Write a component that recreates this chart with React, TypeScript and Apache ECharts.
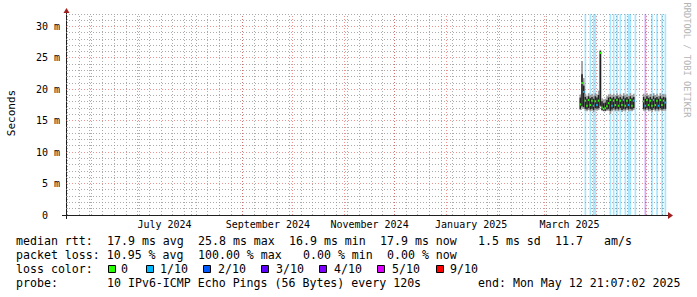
import React, { useEffect, useRef } from "react";
import * as echarts from "echarts";

// ---- time frame ----
const END_TIME = Date.UTC(2025, 4, 12, 21, 7, 2);
const DAY_MS = 86400000;
const SPAN_DAYS = 360;
const START_TIME = END_TIME - SPAN_DAYS * DAY_MS;
const Y_MAX = 32; // ms

// ---- data (ms) ----
const dayKeys: string[] = [
  "2025-03-22", "2025-03-23", "2025-03-24", "2025-03-25", "2025-03-26", "2025-03-27", "2025-03-28", "2025-03-29", "2025-03-30", "2025-03-31",
  "2025-04-01", "2025-04-02", "2025-04-03", "2025-04-04", "2025-04-05", "2025-04-06", "2025-04-07", "2025-04-08", "2025-04-09", "2025-04-10",
  "2025-04-11", "2025-04-12", "2025-04-13", "2025-04-14", "2025-04-15", "2025-04-16", "2025-04-17", "2025-04-18", "2025-04-19", "2025-04-20",
  "2025-04-21", "2025-04-22", "2025-04-23",
  "2025-04-29", "2025-04-30", "2025-05-01", "2025-05-02", "2025-05-03", "2025-05-04", "2025-05-05", "2025-05-06", "2025-05-07", "2025-05-08",
  "2025-05-09", "2025-05-10", "2025-05-11", "2025-05-12",
];
const medianMs: number[] = [
  17.6, 21.0, 19.6, 18.2, 17.4, 18.3, 17.5, 18.2, 17.4, 18.1,
  17.5, 18.2, 25.8, 17.1, 16.9, 17.0, 17.3, 17.8, 18.3, 17.4,
  18.2, 17.5, 18.3, 17.4, 18.2, 17.5, 18.3, 17.4, 18.2, 17.5,
  18.3, 17.4, 18.2,
  18.1, 17.4, 18.3, 17.5, 18.2, 17.4, 18.3, 17.5, 18.2, 17.4,
  18.3, 17.5, 18.2, 17.9,
];
const smokeOuterLow: number[] = [
  16.7, 17.0, 16.9, 16.6, 16.5, 16.7, 16.5, 16.6, 16.4, 16.7,
  16.6, 16.7, 17.2, 16.6, 16.5, 16.5, 16.6, 16.6, 16.1, 16.5,
  16.7, 16.5, 16.6, 16.5, 16.7, 16.4, 16.6, 16.5, 16.7, 16.5,
  16.6, 16.5, 16.7,
  16.6, 16.5, 16.7, 16.5, 16.6, 16.4, 16.7, 16.5, 16.6, 16.5,
  16.7, 16.5, 16.6, 16.6,
];
const smokeOuterHigh: number[] = [
  19.2, 24.5, 21.8, 19.3, 19.0, 19.4, 19.1, 19.3, 19.0, 19.4,
  19.2, 19.8, 26.3, 18.6, 18.4, 18.5, 18.9, 19.2, 19.3, 19.1,
  19.3, 19.0, 19.4, 19.1, 19.3, 19.0, 19.4, 19.1, 19.3, 19.0,
  19.4, 19.1, 19.3,
  19.3, 19.0, 19.4, 19.1, 19.3, 19.0, 19.4, 19.1, 19.3, 19.0,
  19.4, 19.1, 19.3, 19.2,
];
const smokeInnerLow: number[] = [
  16.9, 17.3, 17.2, 16.9, 16.8, 17.0, 16.8, 16.9, 16.7, 17.0,
  16.9, 17.0, 17.4, 16.7, 16.6, 16.6, 16.8, 16.9, 16.6, 16.8,
  17.0, 16.8, 16.9, 16.8, 17.0, 16.7, 16.9, 16.8, 17.0, 16.8,
  16.9, 16.8, 17.0,
  16.9, 16.8, 17.0, 16.8, 16.9, 16.7, 17.0, 16.8, 16.9, 16.8,
  17.0, 16.8, 16.9, 16.9,
];
const smokeInnerHigh: number[] = [
  18.7, 22.4, 20.6, 18.8, 18.5, 18.9, 18.6, 18.8, 18.5, 18.9,
  18.7, 19.1, 26.1, 18.1, 17.8, 17.9, 18.3, 18.7, 18.8, 18.6,
  18.8, 18.5, 18.9, 18.6, 18.8, 18.5, 18.9, 18.6, 18.8, 18.5,
  18.9, 18.6, 18.8,
  18.8, 18.5, 18.9, 18.6, 18.8, 18.5, 18.9, 18.6, 18.8, 18.5,
  18.9, 18.6, 18.8, 18.7,
];
// pings lost out of 10 (colour of the median)
const medianLoss: number[] = [
  0, 0, 1, 0, 0, 0, 0, 0, 1, 0,
  1, 0, 0, 0, 0, 0, 0, 0, 0, 1,
  0, 0, 0, 0, 0, 0, 1, 0, 0, 1,
  0, 0, 1,
  0, 1, 0, 0, 0, 0, 1, 0, 0, 1,
  0, 0, 0, 1,
];
// full-height loss bars
const lossBarDays: string[] = [
  "2025-03-25", "2025-03-28", "2025-03-30", "2025-03-31", "2025-04-09", "2025-04-11", "2025-04-13", "2025-04-15",
  "2025-04-18", "2025-04-20", "2025-04-21", "2025-04-24", "2025-04-30", "2025-05-04", "2025-05-07", "2025-05-10", "2025-05-12",
];
const lossBarLevel: number[] = [1, 1, 1, 1, 1, 1, 1, 1, 1, 1, 1, 1, 4, 1, 1, 1, 1];

// ---- axis labels ----
const monthLabelDays: string[] = ["2024-07-16", "2024-09-16", "2024-11-16", "2025-01-16", "2025-03-16"];
const monthLabelText: string[] = ["July 2024", "September 2024", "November 2024", "January 2025", "March 2025"];
const yLabelStep = 5;

// ---- legend ----
const lossLevels: number[] = [0, 1, 2, 3, 4, 5, 9];
const lossLegendLabels: string[] = ["0", "1/10", "2/10", "3/10", "4/10", "5/10", "9/10"];
const lossLegendColors: string[] = ["#26ff00", "#00b8ff", "#0059ff", "#5e00ff", "#7e00ff", "#dd00ff", "#ff0000"];

const statLine1 = "median rtt:  17.9 ms avg  25.8 ms max  16.9 ms min  17.9 ms now   1.5 ms sd  11.7   am/s";
const statLine2 = "packet loss: 10.95 % avg  100.00 % max   0.00 % min  0.00 % now";
const statLine3 = "loss color:";
const statLine4 = "probe:       10 IPv6-ICMP Echo Pings (56 Bytes) every 120s        end: Mon May 12 21:07:02 2025";

const MONO = "'DejaVu Sans Mono', monospace";
const ts = (d: string) => Date.parse(d + "T00:00:00Z");

function lossColor(level: number): string {
  const i = lossLevels.indexOf(level);
  return lossLegendColors[i < 0 ? 0 : i];
}

function buildOption() {
  // grid line positions
  const weekLines: number[][] = [];
  for (let t = Date.UTC(2024, 4, 19); t < END_TIME; t += 7 * DAY_MS) weekLines.push([t, 0]);
  const monthLines: number[][] = [];
  for (let m = 5; m < 17; m++) monthLines.push([Date.UTC(2024, m, 1), 0]);
  const minorH: number[][] = [];
  const majorH: number[][] = [];
  for (let v = 1; v <= Y_MAX; v++) {
    if (v % 5 === 0) majorH.push([START_TIME, v]);
    else minorH.push([START_TIME, v]);
  }

  const minorColor = "rgba(143,143,143,0.75)";
  const majorColor = "rgba(222,79,79,0.6)";

  const vLine = (color: string) => (params: any, api: any) => {
    const t = api.value(0);
    const p0 = api.coord([t, 0]);
    const p1 = api.coord([t, Y_MAX]);
    const x = Math.floor(p0[0]) + 0.5;
    return {
      type: "line",
      shape: { x1: x, y1: p0[1], x2: x, y2: p1[1] },
      style: { stroke: color, lineWidth: 1, lineDash: [1, 2] },
      silent: true,
    };
  };
  const hLine = (color: string) => (params: any, api: any) => {
    const v = api.value(1);
    const p0 = api.coord([START_TIME, v]);
    const p1 = api.coord([END_TIME, v]);
    const y = Math.floor(p0[1]) + 0.5;
    return {
      type: "line",
      shape: { x1: p0[0], y1: y, x2: p1[0], y2: y },
      style: { stroke: color, lineWidth: 1, lineDash: [1, 2] },
      silent: true,
    };
  };

  const smokeData = dayKeys.map((d, i) => [
    ts(d), smokeOuterLow[i], smokeOuterHigh[i], smokeInnerLow[i], smokeInnerHigh[i], medianMs[i], medianLoss[i],
  ]);
  const barData = lossBarDays.map((d, i) => [ts(d), lossBarLevel[i]]);

  // bottom texts as tokens on a 7px monospace grid
  const textEls: any[] = [];
  const addLine = (s: string, y: number) => {
    const re = /\S+(?: \S+)*/g;
    let m: RegExpExecArray | null;
    while ((m = re.exec(s))) {
      textEls.push({
        type: "text",
        x: 16 + m.index * 7,
        y,
        silent: true,
        style: {
          text: m[0], fill: "#000", fontFamily: MONO, fontSize: 11.6,
          align: "left", verticalAlign: "middle", textAlign: "left", textVerticalAlign: "middle",
        },
      });
    }
  };
  addLine(statLine1, 241);
  addLine(statLine2, 255);
  addLine(statLine3, 269);
  addLine(statLine4, 283);

  const boxX = [108, 146, 203, 261, 319, 377, 436];
  const labelX = [121, 160, 218, 276, 334, 392, 450];
  lossLegendLabels.forEach((lab, i) => {
    textEls.push({
      type: "rect",
      shape: { x: boxX[i] + 0.5, y: 265.5, width: 7, height: 7 },
      style: { fill: lossLegendColors[i], stroke: "#000", lineWidth: 1 },
      silent: true,
    });
    textEls.push({
      type: "text",
      x: labelX[i],
      y: 269,
      silent: true,
      style: {
        text: lab, fill: "#000", fontFamily: MONO, fontSize: 11.6,
        align: "left", verticalAlign: "middle", textAlign: "left", textVerticalAlign: "middle",
      },
    });
  });

  const graphic: any[] = [
    ...textEls,
    {
      type: "text", x: 11, y: 113, rotation: Math.PI / 2, silent: true,
      style: {
        text: "Seconds", fill: "#000", fontFamily: MONO, fontSize: 11,
        align: "center", verticalAlign: "middle", textAlign: "center", textVerticalAlign: "middle",
      },
    },
    {
      type: "text", x: 687, y: 60, rotation: -Math.PI / 2, silent: true,
      style: {
        text: "RRDTOOL / TOBI OETIKER", fill: "#b4b4b4", fontFamily: MONO, fontSize: 8.7,
        align: "center", verticalAlign: "middle", textAlign: "center", textVerticalAlign: "middle",
      },
    },
    // axis lines and arrows
    { type: "line", shape: { x1: 62, y1: 215.5, x2: 668, y2: 215.5 }, style: { stroke: "#1f1f1f", lineWidth: 1 }, silent: true },
    { type: "line", shape: { x1: 66.5, y1: 9, x2: 66.5, y2: 219 }, style: { stroke: "#1f1f1f", lineWidth: 1 }, silent: true },
    { type: "polygon", shape: { points: [[63.5, 13], [69.5, 13], [66.5, 8]] }, style: { fill: "#a01f1f" }, silent: true },
    { type: "polygon", shape: { points: [[668, 212], [668, 219], [673, 215.5]] }, style: { fill: "#a01f1f" }, silent: true },
  ];

  return {
    animation: false,
    backgroundColor: "#ffffff",
    grid: { left: 66, top: 14, width: 600, height: 201, containLabel: false },
    xAxis: {
      type: "value",
      min: START_TIME,
      max: END_TIME,
      axisLine: { show: false },
      axisTick: { show: false },
      splitLine: { show: false },
      axisLabel: {
        customValues: monthLabelDays.map(ts),
        formatter: (v: number) => {
          const i = monthLabelDays.map(ts).indexOf(v);
          return i >= 0 ? monthLabelText[i] : "";
        },
        fontFamily: MONO,
        fontSize: 10,
        color: "#000",
        margin: 4,
      },
    },
    yAxis: {
      type: "value",
      min: 0,
      max: Y_MAX,
      interval: yLabelStep,
      axisLine: { show: false },
      axisTick: { show: false },
      splitLine: { show: false },
      axisLabel: {
        formatter: (v: number) => (v > 30 ? "" : v === 0 ? "{z|0}" : v + " m"),
        fontFamily: MONO,
        fontSize: 10,
        color: "#000",
        margin: 6,
        rich: { z: { fontFamily: MONO, fontSize: 10, color: "#000", padding: [0, 12, 0, 0] } },
      },
    },
    series: [
      { type: "custom", z: 1, data: minorH, renderItem: hLine(minorColor), silent: true },
      { type: "custom", z: 1, data: weekLines, renderItem: vLine(minorColor), silent: true },
      { type: "custom", z: 1, data: majorH, renderItem: hLine(majorColor), silent: true },
      { type: "custom", z: 1, data: monthLines, renderItem: vLine(majorColor), silent: true },
      {
        type: "custom",
        z: 2,
        silent: true,
        data: barData,
        renderItem: (params: any, api: any) => {
          const t = api.value(0);
          const p0 = api.coord([t, 0]);
          const p1 = api.coord([t + DAY_MS, Y_MAX]);
          return {
            type: "rect",
            shape: { x: p0[0], y: p1[1], width: p1[0] - p0[0], height: p0[1] - p1[1] },
            style: { fill: lossColor(api.value(1)), opacity: 0.34 },
          };
        },
      },
      {
        type: "custom",
        z: 3,
        silent: true,
        data: smokeData,
        renderItem: (params: any, api: any) => {
          const t = api.value(0);
          const x0 = api.coord([t, 0])[0];
          const x1 = api.coord([t + DAY_MS, 0])[0];
          const w = x1 - x0;
          const oLo = api.coord([t, api.value(1)])[1];
          const oHi = api.coord([t, api.value(2)])[1];
          const iLo = api.coord([t, api.value(3)])[1];
          const iHi = api.coord([t, api.value(4)])[1];
          const med = api.coord([t, api.value(5)])[1];
          return {
            type: "group",
            children: [
              { type: "rect", shape: { x: x0, y: oHi, width: w, height: oLo - oHi }, style: { fill: "#9a9a9a" } },
              { type: "rect", shape: { x: x0, y: iHi, width: w, height: iLo - iHi }, style: { fill: "#222222" } },
              { type: "rect", shape: { x: x0, y: med - 1, width: w, height: 2 }, style: { fill: lossColor(api.value(6)) } },
            ],
          };
        },
      },
    ],
    graphic,
  };
}

export default function App() {
  const ref = useRef<HTMLDivElement>(null);
  useEffect(() => {
    if (!ref.current) return;
    const chart = echarts.init(ref.current, undefined, { renderer: "svg" });
    chart.setOption(buildOption() as any);
    return () => chart.dispose();
  }, []);
  return (
    <div
      ref={ref}
      style={{ position: "fixed", left: 0, top: 0, width: 697, height: 297, background: "#fff" }}
    />
  );
}
